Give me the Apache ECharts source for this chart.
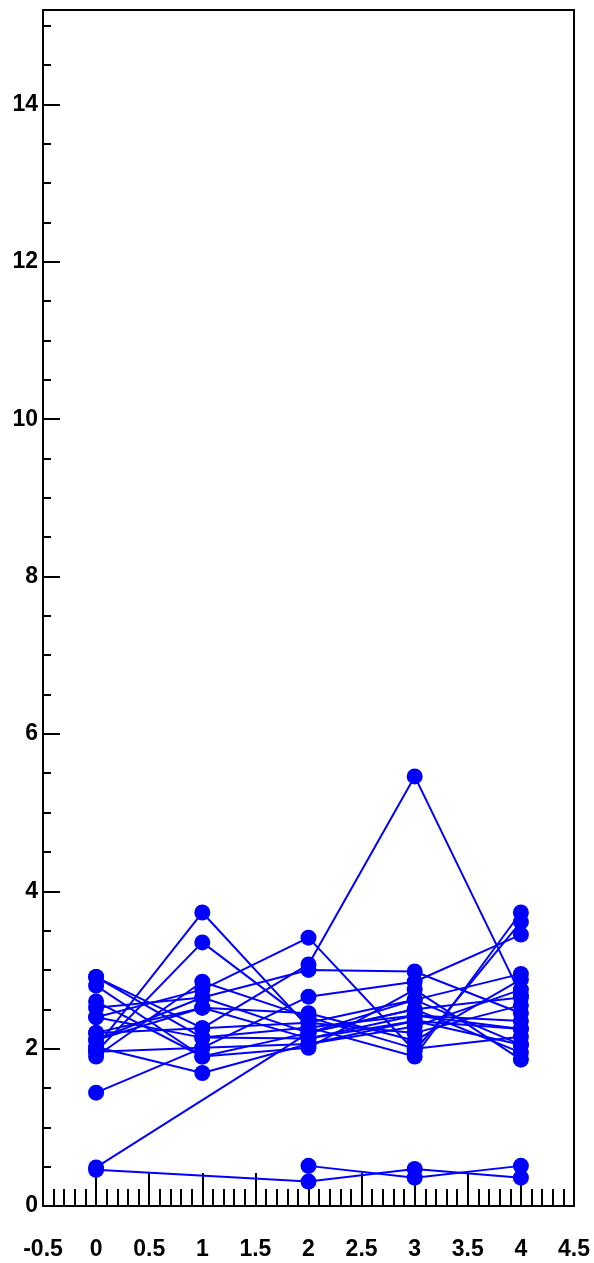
<!DOCTYPE html>
<html><head><meta charset="utf-8">
<script src="https://cdn.jsdelivr.net/npm/echarts@6/dist/echarts.min.js"></script>
<style>html,body{margin:0;padding:0;background:#fff}#c{width:594px;height:1263px}</style>
</head><body><div id="c"></div>
<script>
// x positions of the five points
const xPositions = [0, 1, 2, 3, 4];
// each series: values at x = 0..4 (null = no point)
const s1  = [2.02, 3.73, 2.27, 2.42, 2.25];
const s2  = [1.96, 3.35, 2.33, 2.20, 2.55];
const s3  = [2.91, 2.14, 2.13, 2.35, 2.05];
const s4  = [2.80, 1.90, 2.20, 2.50, 1.95];
const s5  = [2.40, 2.75, 3.41, 1.97, 3.61];
const s6  = [2.20, 2.26, 3.07, 5.46, 2.68];
const s7  = [2.52, 2.65, 3.00, 2.98, 2.45];
const s8  = [1.44, 2.01, 2.66, 2.85, 3.45];
const s9  = [0.49, null, 2.20, 2.62, 2.95];
const s10 = [0.46, null, 0.31, 0.47, 0.36];
const s11 = [null, null, 0.51, 0.36, 0.51];
const s12 = [2.11, 2.52, 2.45, 2.10, 2.88];
const s13 = [2.02, 1.69, 2.06, 2.28, 2.75];
const s14 = [1.90, 2.85, 2.40, 2.00, 2.15];
const s15 = [2.60, 1.90, 2.01, 2.75, 1.86];
const s16 = [2.40, 2.14, 2.27, 1.90, 3.73];
const s17 = [2.20, 2.52, 2.13, 2.42, 2.35];
const s18 = [2.91, 2.26, 2.33, 2.62, 2.05];
const s19 = [2.11, 2.65, 2.20, 2.50, 2.65];
const s20 = [1.96, 2.01, 2.06, 2.35, 2.25];
const allSeries = [s1,s2,s3,s4,s5,s6,s7,s8,s9,s10,s11,s12,s13,s14,s15,s16,s17,s18,s19,s20];

const chart = echarts.init(document.getElementById('c'), null, {renderer:'canvas'});
const font = {fontFamily:'Liberation Sans', fontWeight:'bold', fontSize:23, color:'#000'};
chart.setOption({
  animation:false,
  grid:{left:43,right:20,top:10,bottom:57,show:true,borderColor:'#000',borderWidth:2,backgroundColor:'transparent'},
  xAxis:{type:'value',min:-0.5,max:4.5,interval:0.5,
    axisLine:{onZero:false,lineStyle:{color:'#000',width:2}},
    axisTick:{inside:true,length:33,lineStyle:{color:'#000',width:2}},
    minorTick:{show:true,splitNumber:5,length:17,lineStyle:{color:'#000',width:2}},
    splitLine:{show:false},
    axisLabel:Object.assign({margin:32,showMinLabel:true,showMaxLabel:true},font)},
  yAxis:[
    {type:'value',min:0,max:15.2,interval:2,
     axisLine:{show:true,onZero:false,lineStyle:{color:'#000',width:2}},
     axisTick:{inside:true,length:17,lineStyle:{color:'#000',width:2}},
     splitLine:{show:false},
     axisLabel:Object.assign({margin:5,showMaxLabel:false},font)},
    {type:'value',min:0,max:15.2,interval:0.5,position:'left',
     axisLine:{show:false,onZero:false},
     axisTick:{inside:true,length:8,lineStyle:{color:'#000',width:2}},
     splitLine:{show:false},axisLabel:{show:false}}
  ],
  series: allSeries.map(v => ({
    type:'line', yAxisIndex:0, symbol:'circle', symbolSize:16,
    itemStyle:{color:'#0000ff'}, lineStyle:{color:'#0000ff',width:2},
    data: xPositions.map((x,i)=>v[i]===null?null:[x,v[i]]).filter(d=>d!==null)
  }))
});
</script></body></html>
